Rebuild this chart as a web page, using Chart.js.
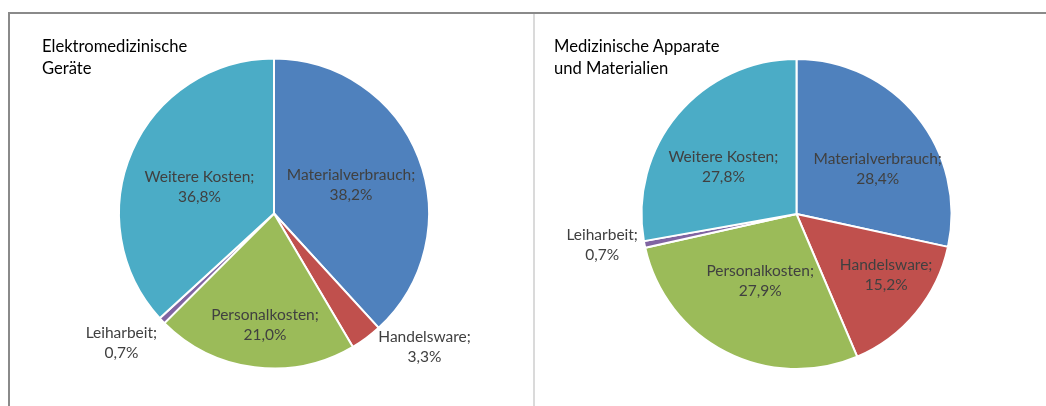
<!DOCTYPE html>
<html>
<head>
<meta charset="utf-8">
<script src="https://cdn.jsdelivr.net/npm/chart.js@4"></script>
<style>
  body { margin: 0; background: #fff; width: 1046px; height: 406px; overflow: hidden; position: relative; font-family: Lato, "Noto Sans", sans-serif; }
  #frame { position: absolute; left: 8px; top: 12px; width: 1100px; height: 500px; border-top: 2px solid #8a8a8a; border-left: 2px solid #8a8a8a; }
  #divider { position: absolute; left: 533px; top: 14px; width: 2px; height: 400px; background: #dadada; }
  canvas { position: absolute; }
  #c1 { left: 10px; top: 15px; }
  #c2 { left: 535px; top: 15px; }
  .title { position: absolute; font-size: 16.6px; line-height: 22px; color: #000; }
  #t1 { left: 42px; top: 35px; }
  #t2 { left: 554px; top: 35px; }
</style>
</head>
<body>
<div id="frame"></div>
<div id="divider"></div>
<canvas id="c1" width="523" height="391"></canvas>
<canvas id="c2" width="511" height="391"></canvas>
<div class="title" id="t1"></div>
<div class="title" id="t2"></div>
<script>
const categories = ['Materialverbrauch', 'Handelsware', 'Personalkosten', 'Leiharbeit', 'Weitere Kosten'];
const elektroValues = [38.2, 3.3, 21.0, 0.7, 36.8];
const apparateValues = [28.4, 15.2, 27.9, 0.7, 27.8];
const elektroTitle = ['Elektromedizinische', 'Geräte'];
const apparateTitle = ['Medizinische Apparate', 'und Materialien'];
const colors = ['#4F81BD', '#C0504D', '#9BBB59', '#8064A2', '#4BACC6'];

document.getElementById('t1').innerHTML = elektroTitle.join('<br>');
document.getElementById('t2').innerHTML = apparateTitle.join('<br>');

// draws "Name;" / "12,3%" at a radius factor and angle shift per slice
const sliceLabels = {
  id: 'sliceLabels',
  afterDatasetsDraw(chart, args, opts) {
    const ctx = chart.ctx;
    const meta = chart.getDatasetMeta(0);
    const values = chart.data.datasets[0].data;
    ctx.save();
    ctx.font = '15.5px Lato, "Noto Sans", sans-serif';
    ctx.fillStyle = '#404040';
    ctx.textAlign = 'center';
    ctx.textBaseline = 'middle';
    meta.data.forEach((arc, i) => {
      const p = arc.getProps(['x', 'y', 'startAngle', 'endAngle', 'outerRadius'], true);
      const mid = (p.startAngle + p.endAngle) / 2 + opts.shift[i] * Math.PI / 180;
      const r = p.outerRadius * opts.radius[i];
      const x = p.x + Math.cos(mid) * r;
      const y = p.y + Math.sin(mid) * r;
      ctx.fillText(chart.data.labels[i] + ';', x, y - 10);
      ctx.fillText(values[i].toFixed(1).replace('.', ',') + '%', x, y + 10);
    });
    ctx.restore();
  }
};

function makePie(id, values, padding, radius, shift) {
  return new Chart(document.getElementById(id), {
    type: 'pie',
    data: {
      labels: categories,
      datasets: [{
        data: values,
        backgroundColor: colors,
        borderColor: '#ffffff',
        borderWidth: 2
      }]
    },
    options: {
      responsive: false,
      animation: false,
      radius: 155,
      layout: { padding: padding },
      plugins: {
        legend: { display: false },
        tooltip: { enabled: false },
        sliceLabels: { radius: radius, shift: shift }
      }
    },
    plugins: [sliceLabels]
  });
}

makePie('c1', elektroValues, { left: 5, right: 0, top: 6, bottom: 0 },
  [0.53, 1.30, 0.72, 1.29, 0.51], [0.9, -11.8, -2.6, 3.5, -4.3]);
makePie('c2', apparateValues, { left: 12, right: 0, top: 7, bottom: 0 },
  [0.60, 0.70, 0.49, 1.27, 0.56], [9.7, -5.3, 1.4, 2.2, -7.4]);
</script>
</body>
</html>
